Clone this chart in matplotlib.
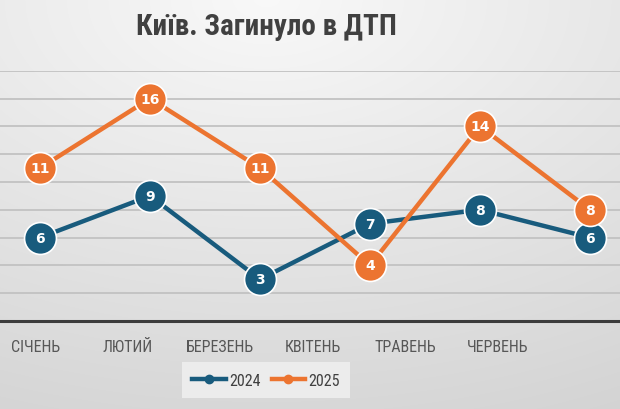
import matplotlib
matplotlib.use("Agg")
import matplotlib.pyplot as plt
import numpy as np
from matplotlib import font_manager

TITLE = "Київ. Загинуло в ДТП"
MONTHS = ["СІЧЕНЬ", "ЛЮТИЙ", "БЕРЕЗЕНЬ", "КВІТЕНЬ", "ТРАВЕНЬ", "ЧЕРВЕНЬ"]
DEATHS_2024 = [6, 9, 3, 7, 8, 6]
DEATHS_2025 = [11, 16, 11, 4, 14, 8]
SERIES_NAMES = ["2024", "2025"]

BLUE = "#185b7d"
ORANGE = "#ec7430"

installed = {f.name for f in font_manager.fontManager.ttflist}

def pick(cands):
    fams = [c for c in cands if c in installed]
    return fams + ["DejaVu Sans"]

NARROW = pick(["Roboto Condensed", "PT Sans Narrow", "Liberation Sans Narrow", "Roboto"])
plt.rcParams["font.family"] = NARROW

fig = plt.figure(figsize=(6.2, 4.1), dpi=100)

# background gradient, light at the top, grey towards the bottom corners
bg = fig.add_axes([0, 0, 1, 1], zorder=-2)
gx = np.linspace(0, 1, 620)
gy = np.linspace(0, 1, 410)
X, Y = np.meshgrid(gx, gy)
d = np.sqrt(((X - 0.43) * 0.9) ** 2 + (Y * 1.0) ** 2)
shade = 0.975 - 0.13 * np.clip(d, 0, 1.2)
bg.imshow(np.dstack([shade] * 3), extent=[0, 1, 0, 1], aspect="auto", origin="upper")
bg.axis("off")

ax = fig.add_axes([0, 0.2146, 1, 0.6105])
ax.set_facecolor("none")
x = np.arange(len(MONTHS))
ax.set_xlim(-0.364, 5.273)
ax.set_ylim(0, 18)

for v in range(2, 19, 2):
    ax.axhline(v, color="#c2c2c2", lw=1.3, zorder=0)
ax.axhline(0, color="#3c3c3c", lw=2.2, zorder=1, clip_on=False)

for vals, color, name, z in [(DEATHS_2024, BLUE, SERIES_NAMES[0], 3), (DEATHS_2025, ORANGE, SERIES_NAMES[1], 5)]:
    ax.plot(x, vals, color=color, lw=3.2, zorder=z, solid_capstyle="round")
    ax.plot(x, vals, "o", color=color, ms=23, mec="white", mew=1.2, zorder=z + 0.5, clip_on=False)
    for xi, v in zip(x, vals):
        ax.text(xi, v, str(v), ha="center", va="center", color="white", fontsize=10,
                fontweight="bold", family="DejaVu Sans", zorder=z + 1)

for s in ax.spines.values():
    s.set_visible(False)
ax.set_yticks([])
label_pos = x * (92.5 / 110) - 0.045
ax.set_xticks(label_pos)
ax.set_xticklabels(MONTHS, fontsize=11.5, color="#575757")
ax.tick_params(axis="x", length=0, pad=13)

fig.text(0.429, 0.935, TITLE, ha="center", va="center", fontsize=21, fontweight="bold", color="#404040")

h1, = ax.plot([], [], color=BLUE, lw=3.2, marker="o", ms=6, label=SERIES_NAMES[0])
h2, = ax.plot([], [], color=ORANGE, lw=3.2, marker="o", ms=6, label=SERIES_NAMES[1])
leg = fig.legend(handles=[h1, h2], loc="center", bbox_to_anchor=(0.429, 0.07), ncol=2,
                 frameon=True, fancybox=False, fontsize=11.5, handlelength=2.1,
                 handletextpad=0.2, columnspacing=0.7, borderpad=0.65, borderaxespad=0)
leg.get_frame().set_facecolor("#ececec")
leg.get_frame().set_edgecolor("none")
leg.get_frame().set_alpha(1)
for t in leg.get_texts():
    t.set_color("#404040")

fig.savefig("out.png", dpi=100)
